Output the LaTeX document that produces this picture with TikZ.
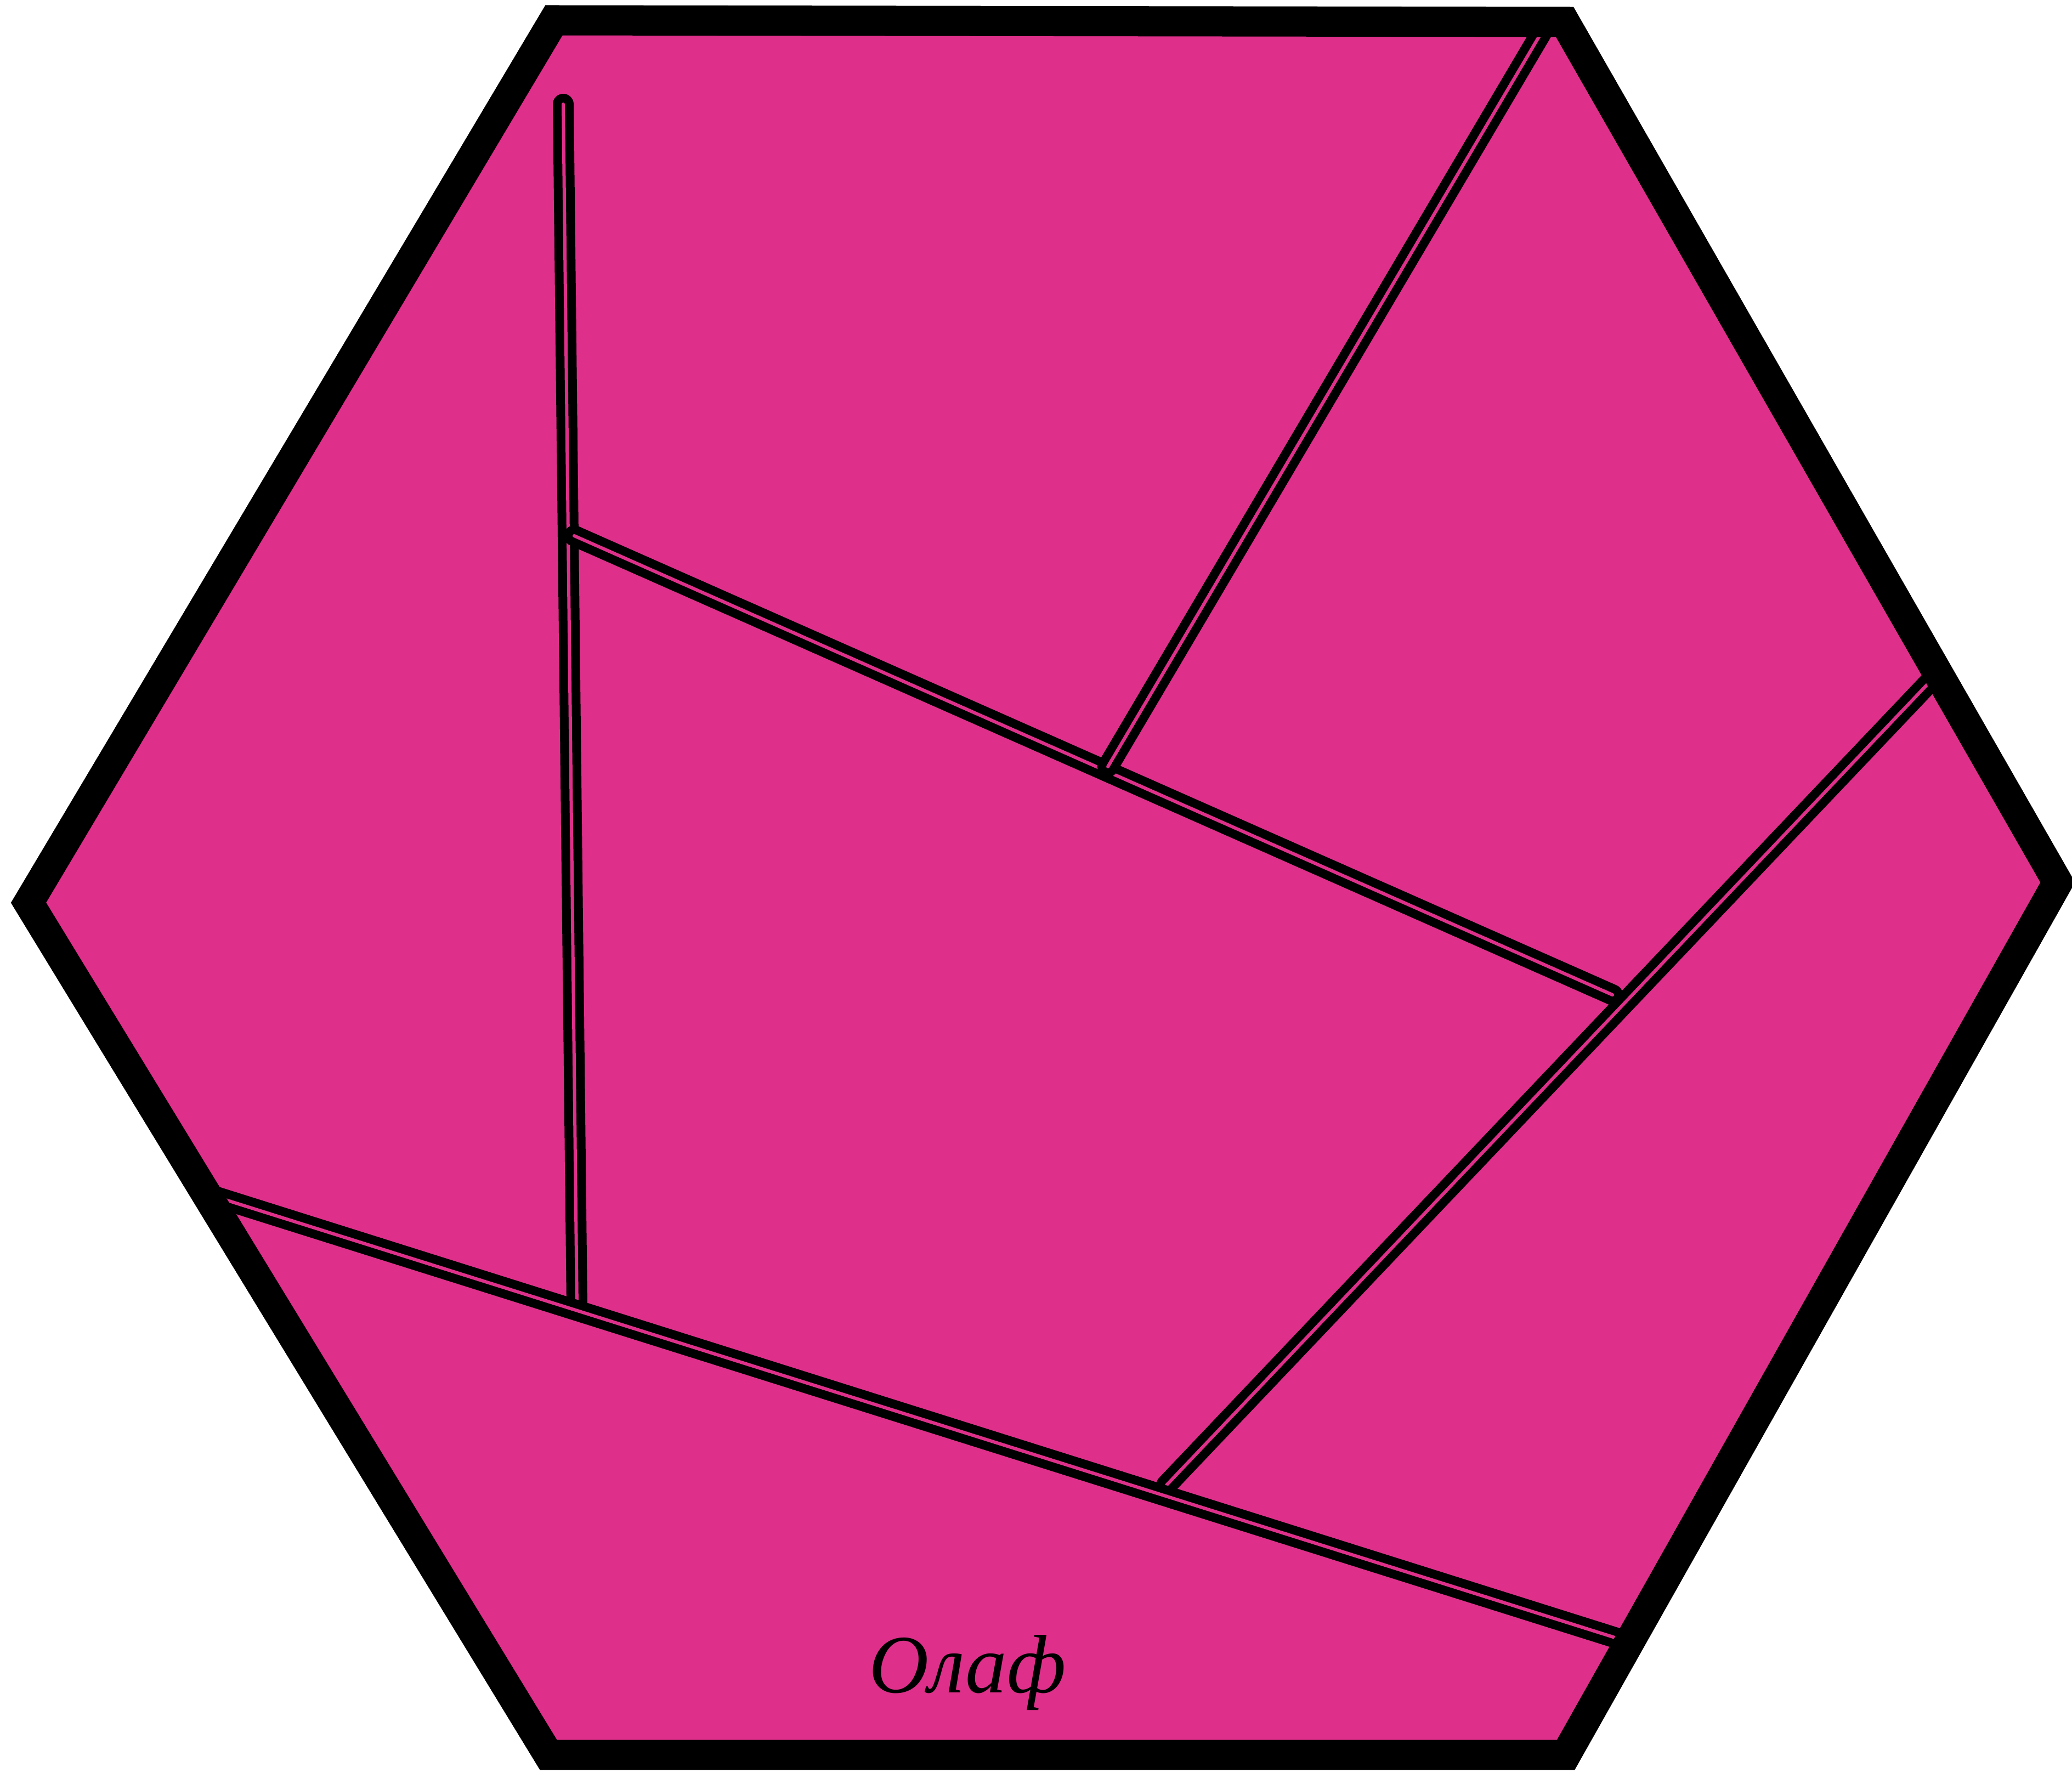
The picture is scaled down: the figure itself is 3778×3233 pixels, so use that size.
\documentclass[tikz,border=0pt]{standalone}
\usepackage{fontspec}
\setmainfont{Liberation Serif}
\usetikzlibrary{calc}
\definecolor{PuzzlePink}{RGB}{222,48,138}

\begin{document}
\begin{tikzpicture}[
      x=0.01cm,y=-0.01cm,
      rimLine/.style={draw=black,line width=0.55cm,line join=miter},
      cutLine/.style={draw=black,line width=0.16cm,double=PuzzlePink,
                      double distance=0.06cm,line cap=round},
      nameTag/.style={font=\fontsize{43}{46}\selectfont\itshape,inner sep=0pt}
    ]
    \useasboundingbox (0,0) rectangle (3778,3233);

    % Hexagon corners
    \coordinate (hTL) at (1010,37);
    \coordinate (hTR) at (2853,40);
    \coordinate (hR)  at (3752,1609);
    \coordinate (hBR) at (2855,3200);
    \coordinate (hBL) at (1000,3200);
    \coordinate (hL)  at (52,1646);

    % Card
    \fill[PuzzlePink] (hTL) -- (hTR) -- (hR) -- (hBR) -- (hBL) -- (hL) -- cycle;

    % Ends of the cuts
    \coordinate (vTop) at (1027,190);
    \coordinate (vBot) at (1052,2382);
    \coordinate (sStart) at (1047,977);
    \coordinate (sEnd)   at (2940,1814);
    \coordinate (tTop) at (2822,40);
    \coordinate (tBot) at (2020,1398);
    \coordinate (rTop) at (3536,1225);
    \coordinate (rBot) at (2127,2708);
    \coordinate (bLeft)  at (380,2178);
    \coordinate (bRight) at (2973,2995);

    % Cuts
    \draw[cutLine] (vTop) -- (vBot);
    \draw[cutLine] (sStart) -- (sEnd);
    \draw[cutLine] (tTop) -- (tBot);
    \draw[cutLine] (rTop) -- (rBot);
    \draw[cutLine] (bLeft) -- (bRight);

    % Rim
    \draw[rimLine] (hTL) -- (hTR) -- (hR) -- (hBR) -- (hBL) -- (hL) -- cycle;

    % Signature
    \node(sig)[nameTag] at (1764,3050) {Олаф};
  \end{tikzpicture}
\end{document}
